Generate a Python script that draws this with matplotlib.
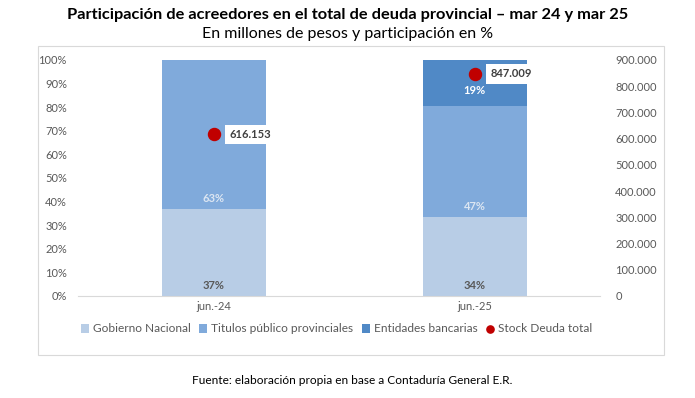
import matplotlib.pyplot as plt
from matplotlib.patches import Rectangle
from matplotlib.ticker import FuncFormatter

plt.rcParams['font.family'] = ['Lato', 'DejaVu Sans']

# data
categories = ['jun.-24', 'jun.-25']
gobierno = [0.37, 0.335]
titulos = [0.63, 0.47]
entidades = [0.0, 0.195]
stock = [616153, 847009]
gob_labels = ['37%', '34%']
tit_labels = ['63%', '47%']
ent_labels = ['', '19%']
stock_labels = ['616.153', '847.009']

c_gob = '#B8CDE6'
c_tit = '#80AADB'
c_ent = '#5089C6'
c_dot = '#C00000'
grey = '#595959'

fig = plt.figure(figsize=(6.95, 3.98), dpi=100)
fig.patches.append(Rectangle((38 / 695, 1 - 355 / 398), 626 / 695, 309 / 398,
                             transform=fig.transFigure, fill=False,
                             edgecolor='#D9D9D9', linewidth=0.8))

ax = fig.add_axes([78 / 695, 1 - 296 / 398, 522 / 695, 236 / 398])
x = range(len(categories))
w = 0.40
ax.bar(x, gobierno, w, color=c_gob, label='Gobierno Nacional')
ax.bar(x, titulos, w, bottom=gobierno, color=c_tit, label='Titulos público provinciales')
bot2 = [g + t for g, t in zip(gobierno, titulos)]
ax.bar(x, entidades, w, bottom=bot2, color=c_ent, label='Entidades bancarias')

for i in x:
    ax.text(i, 0.02, gob_labels[i], ha='center', va='bottom', fontsize=8,
            fontweight='bold', color=grey)
    ax.text(i, gobierno[i] + 0.02, tit_labels[i], ha='center', va='bottom',
            fontsize=8, fontweight='bold', color='#DCE6F2')
    if ent_labels[i]:
        ax.text(i, bot2[i] + 0.065, ent_labels[i], ha='center', va='center',
                fontsize=8, fontweight='bold', color='white')

ax.set_ylim(0, 1)
ax.set_xlim(-0.52, 1.48)
ax.set_yticks([i / 10 for i in range(11)])
ax.yaxis.set_major_formatter(FuncFormatter(lambda v, p: f'{v * 100:.0f}%'))
ax.set_xticks(list(x))
ax.set_xticklabels(categories)
for s in ['top', 'right', 'left']:
    ax.spines[s].set_visible(False)
ax.spines['bottom'].set_color('#D9D9D9')
ax.tick_params(axis='both', length=0, colors=grey, labelsize=8)
ax.tick_params(axis='y', pad=8)

ax2 = ax.twinx()
ax2.scatter(x, stock, s=75, color=c_dot, zorder=5, label='Stock Deuda total')
for i in x:
    ax2.text(i + 0.06, stock[i], stock_labels[i], ha='left', va='center',
             fontsize=8, fontweight='bold', color='#404040',
             bbox=dict(facecolor='white', edgecolor='none', pad=3))
ax2.set_ylim(0, 900000)
ax2.set_yticks(range(0, 900001, 100000))
ax2.yaxis.set_major_formatter(FuncFormatter(lambda v, p: f'{v:,.0f}'.replace(',', '.')))
for s in ['top', 'right', 'left', 'bottom']:
    ax2.spines[s].set_visible(False)
ax2.tick_params(axis='y', length=0, colors=grey, labelsize=8, pad=11)

h1, l1 = ax.get_legend_handles_labels()
h2, l2 = ax2.get_legend_handles_labels()
fig.legend(h1 + h2, l1 + l2, loc='center', bbox_to_anchor=(0.484, 1 - 329 / 398),
           ncol=4, frameon=False, fontsize=8.6, labelcolor=grey, handlelength=0.7,
           handleheight=0.7, handletextpad=0.3, columnspacing=0.7, markerscale=0.6)

fig.text(0.5, 1 - 15 / 398, 'Participación de acreedores en el total de deuda provincial – mar 24 y mar 25',
         ha='center', va='center', fontsize=11.8, fontweight='bold')
fig.text(0.5, 1 - 34 / 398, 'En millones de pesos y participación en %',
         ha='center', va='center', fontsize=11.5)
fig.text(352 / 695, 1 - 381 / 398, 'Fuente: elaboración propia en base a Contaduría General E.R.',
         ha='center', va='center', fontsize=8.6)

plt.savefig('out.png', dpi=100)
